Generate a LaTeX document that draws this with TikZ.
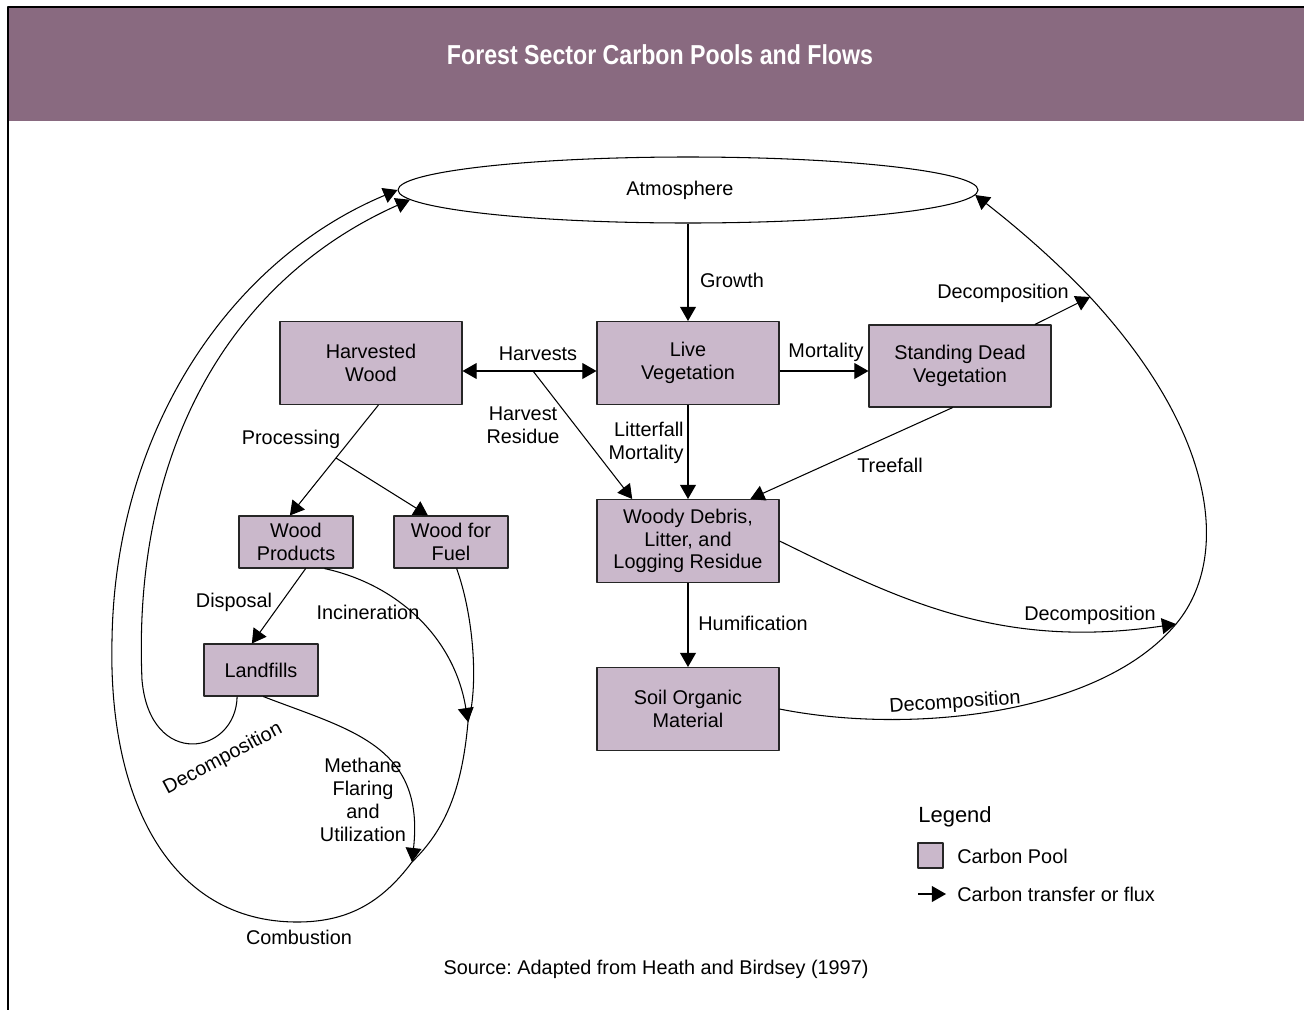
\documentclass[tikz,border=0pt]{standalone}
\usepackage{fontspec}
\usepackage{graphicx}
\setmainfont{Liberation Sans}
\usetikzlibrary{arrows.meta,shapes.geometric}
\definecolor{titlebar}{HTML}{896A80}
\definecolor{poolfill}{HTML}{CAB8CB}
\newcommand\lbfont{\fontsize{11.3}{13}\selectfont}
\frenchspacing
\tikzset
{
  pool/.style={draw=black!85,fill=poolfill,line width=0.6pt,align=center,font=\lbfont,
    minimum width=36.4mm,minimum height=16.6mm,inner sep=1pt},
  small pool/.style={pool,minimum width=22.8mm,minimum height=10.4mm},
  flux/.style={->,line width=0.6pt},
  lbl/.style={font=\lbfont,align=center,inner sep=0pt}
}

\begin{document}
\begin{tikzpicture}[x=0.2mm,y=-0.2mm,>={Triangle[length=8pt,width=9pt]},line join=round]
  \useasboundingbox (0,0) rectangle (1304,1010);
  % title bar
  \fill[titlebar] (8,8) rectangle (1304,121);
  \draw[line width=1.2pt] (1304,7) -- (8,7) -- (8,1010);
  \node[text=white,font=\bfseries\fontsize{15.6}{18}\selectfont] (title) at (660,55)
    {\scalebox{0.845}[1]{Forest Sector Carbon Pools and Flows}};
  % atmosphere
  \node[draw,ellipse,line width=0.6pt,minimum width=116mm,minimum height=13.2mm,font=\lbfont]
    (atm) at (688,190) {\hspace*{-3.2mm}Atmosphere};
  % pools
  \node[pool] (live) at (688,363) {Live\\Vegetation};
  \node[pool] (harv) at (371,363) {Harvested\\Wood};
  \node[pool,minimum height=16.4mm] (std) at (960,366) {Standing Dead\\Vegetation};
  \node[pool] (woody) at (688,541) {Woody Debris,\\Litter, and\\Logging Residue};
  \node[pool] (soil) at (688,709) {Soil Organic\\Material};
  \node[small pool] (wp) at (296,542) {Wood\\Products};
  \node[small pool] (wff) at (451,542) {Wood for\\Fuel};
  \node[small pool] (lf) at (261,670) {Landfills};
  % junctions
  \coordinate (hres) at (533,371);
  \coordinate (proc) at (336,458);
  \coordinate (dsd) at (1090,297);
  \coordinate (dwd) at (1176,624);
  \coordinate (inc) at (468,722);
  \coordinate (meth) at (412,862);
  % forest flows
  \draw[flux] (atm.south) -- (live.north);
  \draw[<->,line width=0.6pt] (harv.east |- hres) -- (live.west |- hres);
  \draw[flux] (hres) -- (woody.143);
  \draw[flux] (live.east |- hres) -- (std.west |- hres);
  \draw[flux] (live.south) -- (woody.north);
  \draw[flux] (std.-100) -- (woody.34);
  \draw[flux] (std.29) -- (dsd);
  \draw[flux] (woody.east) .. controls (900,600) and (1000,650) .. (dwd);
  \draw[flux] (woody.south) -- (soil.north);
  \draw[flux] (soil.east) .. controls (910,735) and (1100,715) .. (dwd)
     .. controls (1228,562) and (1222,440) .. (dsd) .. controls (1050,255) and (1010,222) .. (atm.-1);
  % wood products
  \draw[flux] (harv.-80) -- (wp.103);
  \draw[flux] (proc) -- (wff.131);
  \draw[flux] (wp.-70) -- (lf.109);
  \draw[flux] (wp.-43) .. controls (400,585) and (455,640) .. (inc);
  \draw[flux] (lf.-85) .. controls (350,730) and (425,745) .. (meth);
  \draw[flux] (wff.-78) .. controls (475,620) and (478,690) .. (inc)
     .. controls (462,790) and (445,830) .. (meth) .. controls (380,905) and (345,922) .. (297,922)
     .. controls (170,922) and (108,800) .. (112,640) .. controls (115,430) and (230,260) .. (atm.west);
  \draw[flux] (lf.-132) .. controls (236,755) and (150,770) .. (142,680)
     .. controls (132,450) and (230,280) .. (atm.182.5);
  % labels
  \node[lbl] (lgrowth) at (732,280) {Growth};
  \node[lbl] (lharv) at (538,354) {Harvests};
  \node[lbl] (lres) at (523,425) {Harvest\\Residue};
  \node[lbl] (lmort) at (826,352) {Mortality};
  \node[lbl,align=right,anchor=east] (llitter) at (684,443) {Litterfall\\Mortality};
  \node[lbl] (ldecsd) at (1003,293) {Decomposition};
  \node[lbl] (ltree) at (890,465) {Treefall};
  \node[lbl] (lproc) at (291,439) {Processing};
  \node[lbl] (ldisp) at (234,602) {Disposal};
  \node[lbl] (linc) at (368,612) {Incineration};
  \node[lbl] (lhum) at (753,623) {Humification};
  \node[lbl] (ldecwd) at (1090,615) {Decomposition};
  \node[lbl,rotate=4] (ldecsoil) at (955,703) {Decomposition};
  \node[lbl,rotate=28] (ldeclf) at (223,759) {Decomposition};
  \node[lbl] (lmeth) at (363,800) {Methane\\Flaring\\and\\Utilization};
  \node[lbl] (lcomb) at (299,937) {Combustion};
  \node[lbl] (source) at (656,969) {Source: Adapted from Heath and Birdsey (1997)};
  % legend
  \node[lbl,anchor=west,font=\fontsize{12.5}{15}\selectfont] (legend) at (918,817) {Legend};
  \node[pool,minimum width=5mm,minimum height=5mm,inner sep=0pt] (legbox) at (930.5,855.5) {};
  \node[lbl,anchor=west] (legpool) at (957,856) {Carbon Pool};
  \coordinate (legstart) at (918,894);
  \node[lbl,anchor=west,inner xsep=2.2mm] (legflux) at (946,894) {Carbon transfer or flux};
  \draw[flux] (legstart) -- (legflux.west);
\end{tikzpicture}
\end{document}
